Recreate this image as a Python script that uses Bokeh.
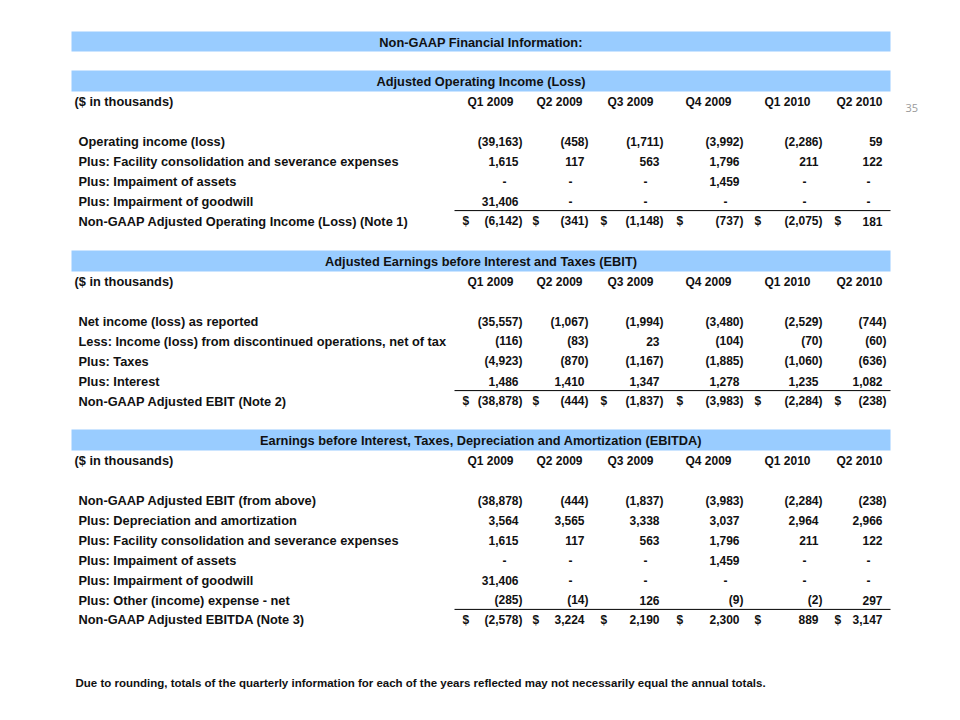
from bokeh.plotting import figure
from bokeh.models import Range1d, ColumnDataSource
from bokeh.core.properties import value
from bokeh.embed import file_html
from bokeh.resources import INLINE

# ---------------- data ----------------
quarters = ["Q1 2009", "Q2 2009", "Q3 2009", "Q4 2009", "Q1 2010", "Q2 2010"]
unit_label = "($ in thousands)"
main_title = "Non-GAAP Financial Information:"
page_number = "35"
footnote = ("Due to rounding, totals of the quarterly information for each of the years "
            "reflected may not necessarily equal the annual totals.")

s1_title = "Adjusted Operating Income (Loss)"
s1_labels = ["Operating income (loss)",
             "Plus: Facility consolidation and severance expenses",
             "Plus: Impaiment of assets",
             "Plus: Impairment of goodwill"]
s1_total_label = "Non-GAAP Adjusted Operating Income (Loss) (Note 1)"
s1_operating_income = [-39163, -458, -1711, -3992, -2286, 59]
s1_facility = [1615, 117, 563, 1796, 211, 122]
s1_impairment_assets = [None, None, None, 1459, None, None]
s1_impairment_goodwill = [31406, None, None, None, None, None]
s1_total = [-6142, -341, -1148, -737, -2075, 181]

s2_title = "Adjusted Earnings before Interest and Taxes (EBIT)"
s2_labels = ["Net income (loss) as reported",
             "Less: Income (loss) from discontinued operations, net of tax",
             "Plus: Taxes",
             "Plus: Interest"]
s2_total_label = "Non-GAAP Adjusted EBIT (Note 2)"
s2_net_income = [-35557, -1067, -1994, -3480, -2529, -744]
s2_discontinued = [-116, -83, 23, -104, -70, -60]
s2_taxes = [-4923, -870, -1167, -1885, -1060, -636]
s2_interest = [1486, 1410, 1347, 1278, 1235, 1082]
s2_total = [-38878, -444, -1837, -3983, -2284, -238]

s3_title = "Earnings before Interest, Taxes, Depreciation and Amortization (EBITDA)"
s3_labels = ["Non-GAAP Adjusted EBIT (from above)",
             "Plus: Depreciation and amortization",
             "Plus: Facility consolidation and severance expenses",
             "Plus: Impaiment of assets",
             "Plus: Impairment of goodwill",
             "Plus: Other (income) expense - net"]
s3_total_label = "Non-GAAP Adjusted EBITDA (Note 3)"
s3_ebit = [-38878, -444, -1837, -3983, -2284, -238]
s3_depreciation = [3564, 3565, 3338, 3037, 2964, 2966]
s3_facility = [1615, 117, 563, 1796, 211, 122]
s3_impairment_assets = [None, None, None, 1459, None, None]
s3_impairment_goodwill = [31406, None, None, None, None, None]
s3_other = [-285, -14, 126, -9, -2, 297]
s3_total = [-2578, 3224, 2190, 2300, 889, 3147]

# ---------------- layout ----------------
FONT = value("Liberation Sans")
LABEL_SIZE = "12.8px"
NUM_SIZE = "12px"
BLUE = "#99CCFF"
BANNER_L, BANNER_R = 71, 890
COL_RIGHT = [522, 588, 663, 743, 822, 886]
HDR_RIGHT = [513, 582, 653, 731, 810, 882]
DOLLAR_LEFT = [462, 532, 600, 676, 754, 834]
LABEL_X = 78
UNIT_X = 74

p = figure(width=944, height=704, output_backend="svg", toolbar_location=None,
           x_range=Range1d(0, 944), y_range=Range1d(704, 0),
           min_border=0, outline_line_color=None)
p.axis.visible = False
p.grid.visible = False
p.background_fill_color = "white"
p.border_fill_color = "white"

groups = {}


def add(group, x, y, t):
    g = groups.setdefault(group, dict(x=[], y=[], text=[]))
    g["x"].append(x)
    g["y"].append(y)
    g["text"].append(t)


def add_value(i, y, v):
    if v is None:
        add(("right", NUM_SIZE), COL_RIGHT[i] - 16, y, "-")
    elif v < 0:
        add(("right", NUM_SIZE), COL_RIGHT[i], y, "(" + f"{abs(v):,}" + ")")
    else:
        add(("right", NUM_SIZE), COL_RIGHT[i] - 4, y, f"{v:,}")


banners = dict(left=[], right=[], top=[], bottom=[])


def banner(top, bottom, title):
    banners["left"].append(BANNER_L)
    banners["right"].append(BANNER_R)
    banners["top"].append(top)
    banners["bottom"].append(bottom)
    add(("center", LABEL_SIZE), (BANNER_L + BANNER_R) / 2, (top + bottom) / 2 + 0.5, title)


underlines = dict(x0=[], x1=[], y=[])


def section(top, title, labels, rows, total_label, total):
    banner(top, top + 21, title)
    hy = top + 31
    add(("left", LABEL_SIZE), UNIT_X, hy, unit_label)
    for i, q in enumerate(quarters):
        add(("right", NUM_SIZE), HDR_RIGHT[i], hy, q)
    y = hy + 40
    for lab, vals in zip(labels, rows):
        add(("left", LABEL_SIZE), LABEL_X, y, lab)
        for i, v in enumerate(vals):
            add_value(i, y, v)
        y += 19.9
    underlines["x0"].append(454)
    underlines["x1"].append(BANNER_R)
    underlines["y"].append(y - 10.5)
    add(("left", LABEL_SIZE), LABEL_X, y, total_label)
    for i, v in enumerate(total):
        add(("left", NUM_SIZE), DOLLAR_LEFT[i], y, "$")
        add_value(i, y, v)


banner(31, 51, main_title)
section(70, s1_title, s1_labels,
        [s1_operating_income, s1_facility, s1_impairment_assets, s1_impairment_goodwill],
        s1_total_label, s1_total)
section(250, s2_title, s2_labels,
        [s2_net_income, s2_discontinued, s2_taxes, s2_interest],
        s2_total_label, s2_total)
section(429, s3_title, s3_labels,
        [s3_ebit, s3_depreciation, s3_facility, s3_impairment_assets,
         s3_impairment_goodwill, s3_other],
        s3_total_label, s3_total)

p.quad(source=ColumnDataSource(banners), left="left", right="right", top="top",
        bottom="bottom", fill_color=BLUE, line_color=None)
p.segment(x0="x0", x1="x1", y0="y", y1="y", source=ColumnDataSource(underlines),
          line_color="black", line_width=1)

for (align, size), d in groups.items():
    p.text(x="x", y="y", text="text", source=ColumnDataSource(d),
           text_align=align, text_baseline="middle", text_font=FONT,
           text_font_size=size, text_font_style="bold", text_color="#111111")

p.text(x=[905], y=[107], text=[page_number], text_align="left", text_baseline="middle",
       text_font=value("Open Sans"), text_font_size="11px", text_color="#9a9a9a")
p.text(x=[75], y=[682], text=[footnote], text_align="left", text_baseline="middle",
       text_font=FONT, text_font_size="11.5px",
       text_font_style="bold", text_color="#111111")

open("out.html", "w").write(file_html(p, INLINE))
